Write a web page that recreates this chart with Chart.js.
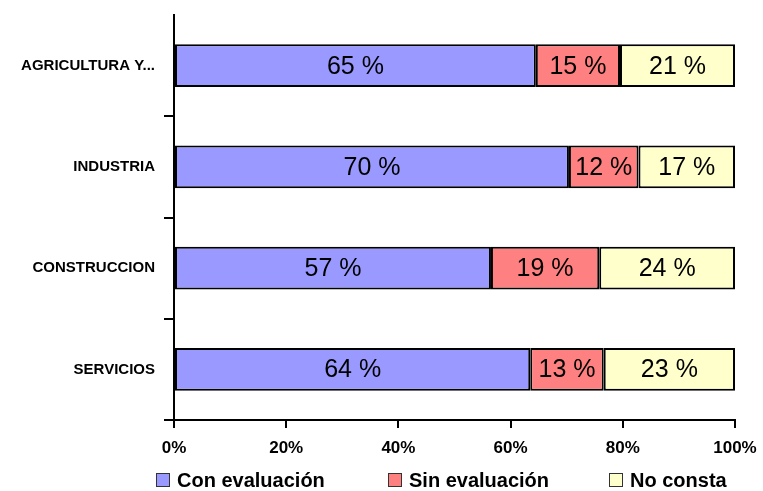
<!DOCTYPE html>
<html>
<head>
<meta charset="utf-8">
<script src="https://cdn.jsdelivr.net/npm/chart.js@4.4.0/dist/chart.umd.min.js"></script>
<style>
  html, body { margin: 0; padding: 0; background: #fff; }
  #wrap { position: relative; width: 763px; height: 491px; }
  #legend {
    position: absolute; left: 0; top: 469px; width: 763px; height: 22px;
    font-family: "Liberation Sans", Arial, sans-serif; font-weight: bold; font-size: 20px; color: #000;
  }
  #legend span.item { position: absolute; top: 0; white-space: nowrap; line-height: 22px; }
  #legend span.box {
    display: inline-block; width: 12px; height: 12px; border: 1px solid #333;
    margin-right: 7px; vertical-align: 0px;
  }
</style>
</head>
<body>
<div id="wrap">
  <canvas id="chart" width="763" height="470"></canvas>
  <div id="legend"></div>
</div>
<script>
const categories = ["AGRICULTURA Y...", "INDUSTRIA", "CONSTRUCCION", "SERVICIOS"];
const seriesNames = ["Con evaluación", "Sin evaluación", "No consta"];
const conEvaluacion = [64.5, 70.4, 56.5, 63.5];
const sinEvaluacion = [15.0, 12.4, 19.3, 13.1];
const noConsta = [20.5, 17.2, 24.2, 23.4];
const xTicks = [0, 20, 40, 60, 80, 100];
const colors = ["#9999ff", "#ff8080", "#ffffcc"];

const seriesValues = [conEvaluacion, sinEvaluacion, noConsta];

// labels inside every segment
const segmentLabels = {
  id: "segmentLabels",
  afterDatasetsDraw(chart) {
    const ctx = chart.ctx;
    ctx.save();
    ctx.font = "25px 'Liberation Sans', Arial, sans-serif";
    ctx.fillStyle = "#000";
    ctx.textAlign = "center";
    ctx.textBaseline = "middle";
    chart.data.datasets.forEach((ds, di) => {
      chart.getDatasetMeta(di).data.forEach((bar, i) => {
        const left = Math.min(bar.x, bar.base);
        const right = Math.max(bar.x, bar.base);
        ctx.fillText(Math.round(ds.data[i]) + " %", (left + right) / 2, bar.y + 1);
      });
    });
    ctx.restore();
  }
};

const chart = new Chart(document.getElementById("chart"), {
  type: "bar",
  data: {
    labels: categories,
    datasets: seriesNames.map((name, k) => ({
      label: name,
      data: seriesValues[k],
      backgroundColor: colors[k],
      borderColor: "#000",
      borderWidth: 2,
      borderSkipped: false,
      categoryPercentage: 1,
      barPercentage: 0.42
    }))
  },
  options: {
    indexAxis: "y",
    responsive: false,
    animation: false,
    layout: { padding: { top: 15, right: 28, left: 0, bottom: 0 } },
    plugins: {
      legend: { display: false },
      tooltip: { enabled: false }
    },
    scales: {
      x: {
        stacked: true,
        min: 0,
        max: 100,
        afterBuildTicks: (scale) => { scale.ticks = xTicks.map(v => ({ value: v })); },
        border: { color: "#000", width: 2 },
        grid: { drawOnChartArea: false, drawTicks: true, tickLength: 8, color: "#000", lineWidth: 2 },
        ticks: {
          color: "#000",
          padding: 10,
          font: { family: "'Liberation Sans', Arial, sans-serif", size: 17, weight: "bold" },
          callback: (v) => v + "%"
        },
        afterFit: (scale) => {
          scale.height = 50;
          scale.paddingLeft = 0;
          scale.paddingRight = 0;
        }
      },
      y: {
        stacked: true,
        offset: true,
        border: { color: "#000", width: 2 },
        grid: {
          offset: true,
          drawOnChartArea: false,
          drawTicks: true,
          tickLength: 10,
          lineWidth: 2,
          color: (c) => (c.index === 0 || c.index === categories.length) ? "rgba(0,0,0,0)" : "#000"
        },
        ticks: {
          color: "#000",
          padding: 9,
          font: { family: "'Liberation Sans', Arial, sans-serif", size: 15, weight: "bold" }
        },
        afterFit: (scale) => {
          scale.width = 174;
          scale.paddingTop = 0;
          scale.paddingBottom = 0;
        }
      }
    }
  },
  plugins: [segmentLabels]
});

// legend below the chart, built from the datasets
const legendPos = [156, 388, 609];
const legendEl = document.getElementById("legend");
chart.data.datasets.forEach((ds, k) => {
  const item = document.createElement("span");
  item.className = "item";
  item.style.left = legendPos[k] + "px";
  item.innerHTML = '<span class="box" style="background:' + ds.backgroundColor + '"></span>' + ds.label;
  legendEl.appendChild(item);
});
</script>
</body>
</html>
